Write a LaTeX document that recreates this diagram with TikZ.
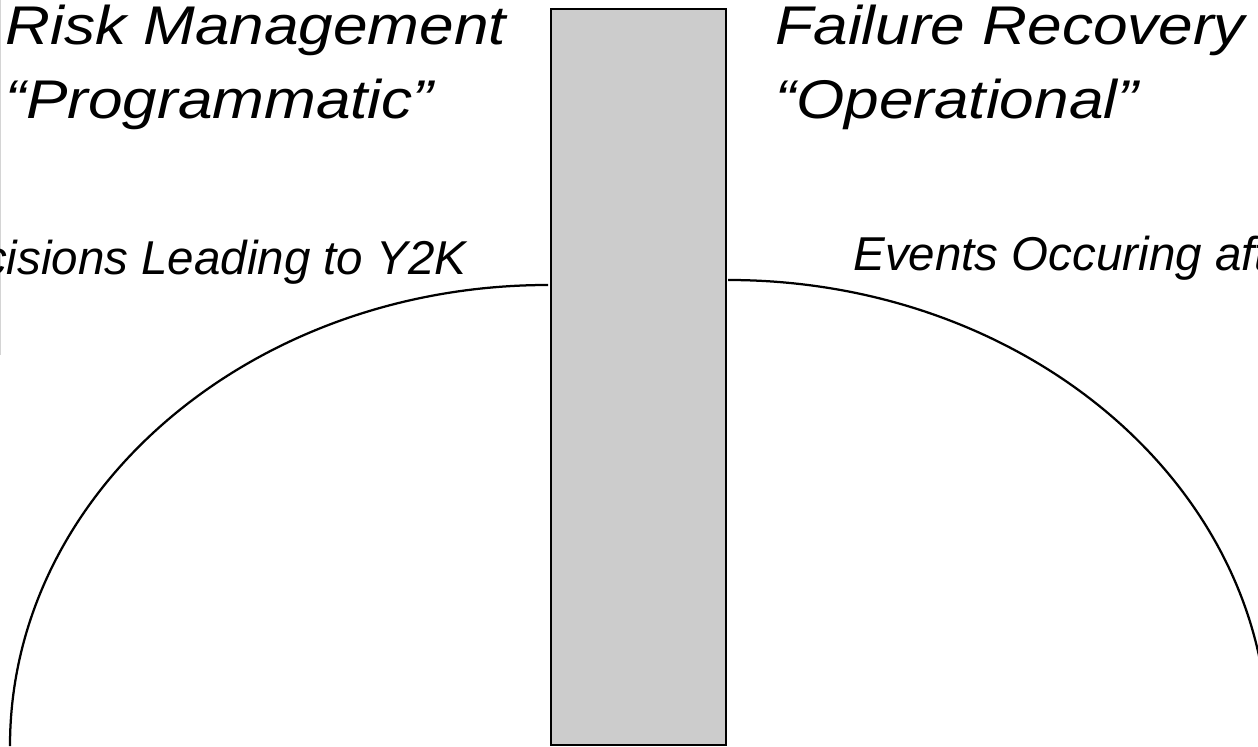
\documentclass[tikz,border=0pt]{standalone}
\usepackage{fontspec}
\setmainfont{Liberation Sans}[FakeStretch=1.14]
\newfontfamily\plainsans{Liberation Sans}
\usetikzlibrary{positioning}
\definecolor{wallgray}{RGB}{204,204,204}
\definecolor{edgegray}{RGB}{212,212,212}

\begin{document}
\begin{tikzpicture}[x=0.4pt,y=0.4pt,
		title/.style={font=\fontsize{21.8}{26}\selectfont\itshape, inner sep=0pt, anchor=base west},
		caption/.style={font=\plainsans\fontsize{19}{23}\selectfont\itshape, inner sep=0pt, anchor=base west},
		phase/.style={line width=0.9pt}]
			\useasboundingbox (0,0) rectangle (1258,746);
			\clip (0,0) rectangle (1258,746);
			\draw[edgegray, line width=0.6pt] (0.5,746) -- (0.5,391);
			\node[draw, fill=wallgray, line width=1pt, inner sep=0pt, minimum width=70pt, minimum height=294.4pt] (wall) at (638.5,369) {};
			\node[title] (risk) at (5,701) {Risk Management};
			\node[title, below=29.6pt of risk.base west, anchor=base west] (prog) {“Programmatic”};
			\node[title] (fail) at (775,701) {Failure Recovery};
			\node[title, below=29.6pt of fail.base west, anchor=base west] (oper) {“Operational”};
			\node[caption] (lead) at (-78,471) {Decisions Leading to Y2K};
			\node[caption] (after) at (853,475) {Events Occuring after Y2K};
			\coordinate (ltop) at (548,461);
			\coordinate (rtop) at (728,466);
			\draw[phase] (ltop) arc[start angle=90, end angle=180, x radius=215.2pt, y radius=184.4pt];
			\draw[phase] (rtop) arc[start angle=90, end angle=0, x radius=216pt, y radius=184pt];
		\end{tikzpicture}
\end{document}
